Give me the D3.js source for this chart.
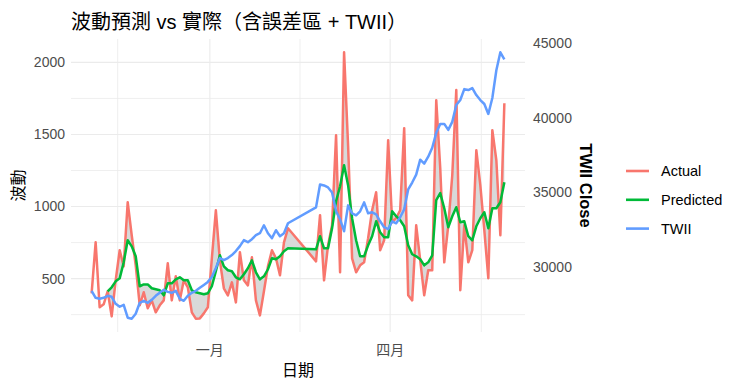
<!DOCTYPE html>
<html>
<head>
<meta charset="utf-8">
<script src="https://cdn.jsdelivr.net/npm/d3@7"></script>
<style>
  body { margin: 0; background: #fff; }
  text { font-family: "Liberation Sans", "Noto Sans CJK TC", sans-serif; }
</style>
</head>
<body>
<div id="chart"></div>
<script>
// trading dates (sampled every other day), Lunar New Year gap in Feb
const dates = [
  '2025-11-03','2025-11-05','2025-11-07','2025-11-09','2025-11-11','2025-11-13','2025-11-15',
  '2025-11-17','2025-11-19','2025-11-21','2025-11-23','2025-11-25','2025-11-27','2025-11-29',
  '2025-12-01','2025-12-03','2025-12-05','2025-12-07','2025-12-09','2025-12-11','2025-12-13','2025-12-15',
  '2025-12-17','2025-12-19','2025-12-21','2025-12-23','2025-12-25','2025-12-27','2025-12-29','2025-12-31',
  '2026-01-02','2026-01-04','2026-01-06','2026-01-08','2026-01-10','2026-01-12','2026-01-14','2026-01-16',
  '2026-01-18','2026-01-20','2026-01-22','2026-01-24','2026-01-26','2026-01-28','2026-01-30',
  '2026-02-01','2026-02-03','2026-02-05','2026-02-07','2026-02-09','2026-02-23','2026-02-25','2026-02-27',
  '2026-03-01','2026-03-03','2026-03-05','2026-03-07','2026-03-09','2026-03-11','2026-03-13','2026-03-15',
  '2026-03-17','2026-03-19','2026-03-21','2026-03-23','2026-03-25','2026-03-27','2026-03-29','2026-03-31',
  '2026-04-02','2026-04-04','2026-04-06','2026-04-08','2026-04-10','2026-04-12','2026-04-14','2026-04-16',
  '2026-04-18','2026-04-20','2026-04-22','2026-04-24','2026-04-26','2026-04-28','2026-04-30',
  '2026-05-02','2026-05-04','2026-05-06','2026-05-08','2026-05-10','2026-05-12','2026-05-14','2026-05-16',
  '2026-05-18','2026-05-20','2026-05-22','2026-05-24','2026-05-26','2026-05-28'
];

const actual = [
  398, 752, 301, 322, 412, 238, 488, 697, 585, 1030, 801, 592, 315, 405,
  294, 349, 266, 315, 349, 606, 349, 516, 349, 488, 440, 266, 222, 224, 259, 301,
  641, 974, 627, 433, 384, 474, 335, 683, 488, 453, 648, 349, 245, 412, 585,
  697, 641, 523, 752, 849, 620, 940, 488,
  731, 870, 1495, 544, 2070, 1425, 641, 544, 592, 613, 780, 974, 1099, 697, 766, 1460,
  891, 919, 974, 1544, 384, 349, 870, 627, 384, 558, 558, 1738, 1266, 613, 870,
  1217, 1808, 419, 870, 613, 697, 1391, 1148, 835, 502, 1530, 1321, 801, 1717
];

const predicted = [
  null, null, null, null, 412, 440, 481, 502, 613, 766, 724, 655, 447, 460,
  460, 433, 426, 419, 384, 467, 467, 495, 509, 488, 488, 419, 405, 398, 391, 398,
  447, 551, 662, 585, 558, 551, 509, 495, 530, 572, 627, 544, 495, 516, 565,
  641, 634, 655, 690, 710, 703, 794, 710,
  710, 849, 1037, 1141, 1287, 1148, 919, 766, 655, 655, 731, 794, 898, 822, 787, 787,
  967, 933, 905, 863, 731, 669, 655, 634, 592, 613, 662, 1044, 1093, 988, 856,
  933, 995, 891, 898, 794, 766, 863, 919, 960, 849, 988, 988, 1030, 1169
];

const twii = [
  28380, 27913, 27847, 27913, 28047, 27980, 27513, 27313, 27447, 26580, 26513, 26847, 27580, 27713,
  27580, 27780, 28047, 28247, 28447, 28313, 28247, 28380, 27847, 27713, 28047, 28247, 28380, 28580, 28780, 28980,
  29313, 29913, 30580, 30447, 30580, 30780, 31047, 31380, 31780, 31647, 31847, 32113, 32247, 32780, 32247,
  31913, 32447, 32047, 32247, 32913, 33980, 35513, 35447,
  35313, 34980, 33713, 33180, 32380, 34113, 33580, 33447, 33713, 34313, 33580, 33647, 33513, 33047, 32647, 32513,
  33047, 32913, 33313, 33847, 35180, 35647, 36180, 37180, 36913, 37380, 37980, 38980, 39580, 39580, 39180,
  39713, 40847, 41180, 41913, 41847, 41980, 41513, 41180, 40913, 40247, 41313, 43180, 44380, 43913
];

const monthNames = ['一月', '二月', '三月', '四月', '五月', '六月',
                    '七月', '八月', '九月', '十月', '十一月', '十二月'];
const seriesNames = ['Actual', 'Predicted', 'TWII'];
const seriesColors = ['#F8766D', '#00BA38', '#619CFF'];

(function() {
  const width = 742,
        height = 388,
        panel = {left: 71, right: 525, top: 39, bottom: 332};

  const parse = d3.timeParse('%Y-%m-%d');
  const rows = dates.map((s, i) => ({
    date: parse(s),
    act: actual[i],
    pred: predicted[i],
    twii: twii[i]
  }));

  const svg = d3.select('#chart')
    .append('svg')
    .attr('width', width)
    .attr('height', height);

  // x scale with ggplot-style 5% expansion
  const ext = d3.extent(rows, d => d.date);
  const span = ext[1] - ext[0];
  const x = d3.scaleTime()
    .domain([new Date(+ext[0] - span * 0.05), new Date(+ext[1] + span * 0.05)])
    .range([panel.left, panel.right]);

  // left y scale (volatility)
  const vals = actual.concat(predicted.filter(v => v != null));
  const lo = d3.min(vals), hi = d3.max(vals);
  const pad = (hi - lo) * 0.05;
  const y = d3.scaleLinear()
    .domain([lo - pad, hi + pad])
    .range([panel.bottom, panel.top]);

  // TWII rescaled onto the volatility range (secondary axis)
  const [tMin, tMax] = d3.extent(twii);
  const toLeft = t => lo + (t - tMin) / (tMax - tMin) * (hi - lo);
  const fromLeft = v => tMin + (v - lo) / (hi - lo) * (tMax - tMin);
  const yR = d3.scaleLinear()
    .domain(y.domain().map(fromLeft))
    .range([panel.bottom, panel.top]);

  // grid
  const yMajor = y.ticks(4);
  const yStep = yMajor[1] - yMajor[0];
  const yMinor = d3.range(yMajor[0] - yStep / 2, y.domain()[1], yStep)
    .filter(v => v > y.domain()[0]);

  const xMajorAll = d3.timeMonth.every(3).range(d3.timeMonth.offset(x.domain()[0], -3),
                                                d3.timeMonth.offset(x.domain()[1], 3));
  const xMajor = xMajorAll.filter(d => d >= x.domain()[0] && d <= x.domain()[1]);
  const xMinor = d3.pairs(xMajorAll, (a, b) => new Date((+a + +b) / 2))
    .filter(d => d >= x.domain()[0] && d <= x.domain()[1]);

  const grid = svg.append('g').attr('stroke', '#EBEBEB').attr('fill', 'none');
  grid.selectAll('.ymin').data(yMinor).enter().append('line')
    .attr('x1', panel.left).attr('x2', panel.right)
    .attr('y1', d => y(d)).attr('y2', d => y(d))
    .attr('stroke-width', 0.8);
  grid.selectAll('.xmin').data(xMinor).enter().append('line')
    .attr('y1', panel.top).attr('y2', panel.bottom)
    .attr('x1', d => x(d)).attr('x2', d => x(d))
    .attr('stroke-width', 0.8);
  grid.selectAll('.ymaj').data(yMajor).enter().append('line')
    .attr('x1', panel.left).attr('x2', panel.right)
    .attr('y1', d => y(d)).attr('y2', d => y(d))
    .attr('stroke-width', 1.1);
  grid.selectAll('.xmaj').data(xMajor).enter().append('line')
    .attr('y1', panel.top).attr('y2', panel.bottom)
    .attr('x1', d => x(d)).attr('x2', d => x(d))
    .attr('stroke-width', 1.1);

  // error ribbon
  const ribbon = d3.area()
    .defined(d => d.pred != null)
    .x(d => x(d.date))
    .y0(d => y(d.act))
    .y1(d => y(d.pred));

  svg.append('path')
    .datum(rows)
    .attr('d', ribbon)
    .attr('fill', '#D9D9D9');

  // lines
  const accessors = [d => d.act, d => d.pred, d => toLeft(d.twii)];
  accessors.forEach((acc, i) => {
    const line = d3.line()
      .defined(d => acc(d) != null)
      .x(d => x(d.date))
      .y(d => y(acc(d)));
    svg.append('path')
      .datum(rows)
      .attr('d', line)
      .attr('fill', 'none')
      .attr('stroke', seriesColors[i])
      .attr('stroke-width', 2.5)
      .attr('stroke-linejoin', 'round')
      .attr('stroke-linecap', 'butt');
  });

  // axes labels
  const tickColor = '#4D4D4D';
  svg.append('g').selectAll('text').data(yMajor).enter().append('text')
    .attr('x', panel.left - 6)
    .attr('y', d => y(d))
    .attr('dy', '0.35em')
    .attr('text-anchor', 'end')
    .attr('font-size', 14)
    .attr('fill', tickColor)
    .text(d => d);

  svg.append('g').selectAll('text').data(yR.ticks(4)).enter().append('text')
    .attr('x', panel.right + 8)
    .attr('y', d => yR(d))
    .attr('dy', '0.35em')
    .attr('text-anchor', 'start')
    .attr('font-size', 14)
    .attr('fill', tickColor)
    .text(d => d);

  svg.append('g').selectAll('text').data(xMajor).enter().append('text')
    .attr('x', d => x(d))
    .attr('y', panel.bottom + 18)
    .attr('dy', '0.35em')
    .attr('text-anchor', 'middle')
    .attr('font-size', 14)
    .attr('fill', tickColor)
    .text(d => monthNames[d.getMonth()]);

  // titles
  svg.append('text')
    .attr('x', panel.left)
    .attr('y', 29)
    .attr('font-size', 20)
    .attr('fill', '#000')
    .text('波動預測 vs 實際（含誤差區 + TWII）');

  svg.append('text')
    .attr('x', (panel.left + panel.right) / 2)
    .attr('y', 370)
    .attr('dy', '0.35em')
    .attr('text-anchor', 'middle')
    .attr('font-size', 16)
    .text('日期');

  svg.append('text')
    .attr('transform', `translate(18,${(panel.top + panel.bottom) / 2}) rotate(-90)`)
    .attr('dy', '0.35em')
    .attr('text-anchor', 'middle')
    .attr('font-size', 16)
    .text('波動');

  svg.append('text')
    .attr('transform', `translate(586,${(panel.top + panel.bottom) / 2}) rotate(90)`)
    .attr('dy', '0.35em')
    .attr('text-anchor', 'middle')
    .attr('font-size', 16.5)
    .attr('font-weight', 'bold')
    .text('TWII Close');

  // legend
  const legend = svg.append('g')
    .attr('transform', 'translate(626,171)');

  const keys = legend.selectAll('.key')
    .data(seriesNames)
    .enter().append('g')
      .attr('class', 'key')
      .attr('transform', (d, i) => `translate(0,${i * 28.8})`);

  keys.append('line')
    .attr('x1', 0).attr('x2', 23)
    .attr('stroke', (d, i) => seriesColors[i])
    .attr('stroke-width', 2.6);

  keys.append('text')
    .attr('x', 35)
    .attr('dy', '0.35em')
    .attr('font-size', 14.5)
    .attr('fill', '#000')
    .text(d => d);
})();
</script>
</body>
</html>
